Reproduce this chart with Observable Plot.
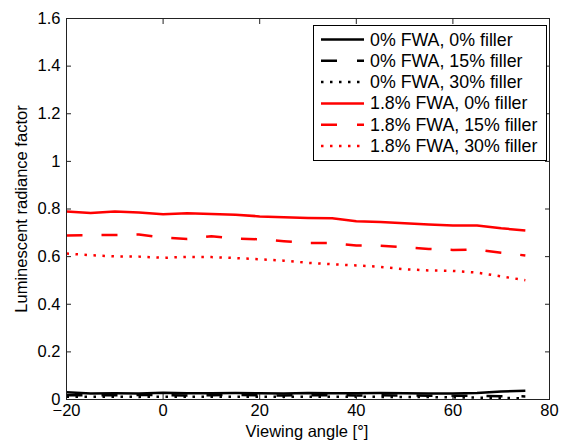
<!DOCTYPE html>
<html>
<head>
<meta charset="utf-8">
<script src="https://cdn.jsdelivr.net/npm/d3@7"></script>
<script src="https://cdn.jsdelivr.net/npm/@observablehq/plot@0.6"></script>
<style>
  html, body { margin: 0; padding: 0; background: #fff; }
  #chart { position: relative; width: 561px; height: 442px; }
  svg { font-family: "Liberation Sans", Arial, Helvetica, sans-serif; }
</style>
</head>
<body>
<div id="chart"></div>
<script>
const angles = [-20,-15,-10,-5,0,5,10,15,20,25,30,35,40,45,50,55,60,65,70,75];

const fwa0_filler0  = [0.030,0.025,0.026,0.025,0.028,0.026,0.026,0.027,0.026,0.025,0.027,0.026,0.026,0.027,0.026,0.025,0.025,0.027,0.034,0.037];
const fwa0_filler15 = [0.018,0.017,0.018,0.019,0.018,0.017,0.018,0.019,0.018,0.017,0.018,0.018,0.017,0.018,0.017,0.016,0.016,0.015,0.014,0.013];
const fwa0_filler30 = [0.012,0.011,0.012,0.011,0.012,0.011,0.012,0.011,0.012,0.011,0.012,0.011,0.012,0.011,0.010,0.010,0.009,0.008,0.007,0.005];
const fwa18_filler0  = [0.789,0.783,0.789,0.785,0.778,0.782,0.779,0.776,0.769,0.765,0.762,0.761,0.749,0.745,0.740,0.735,0.731,0.731,0.719,0.710];
const fwa18_filler15 = [0.689,0.690,0.691,0.693,0.680,0.674,0.686,0.676,0.673,0.665,0.657,0.657,0.647,0.646,0.639,0.632,0.628,0.630,0.616,0.605];
const fwa18_filler30 = [0.613,0.606,0.601,0.600,0.595,0.599,0.598,0.594,0.589,0.583,0.574,0.568,0.563,0.557,0.547,0.542,0.540,0.533,0.517,0.501];

const seriesNames = ["0% FWA, 0% filler","0% FWA, 15% filler","0% FWA, 30% filler","1.8% FWA, 0% filler","1.8% FWA, 15% filler","1.8% FWA, 30% filler"];
const seriesValues = [fwa0_filler0, fwa0_filler15, fwa0_filler30, fwa18_filler0, fwa18_filler15, fwa18_filler30];
const seriesColors = ["#000000","#000000","#000000","#ff0000","#ff0000","#ff0000"];
const seriesDash = [null, "16,19", "2.5,6.5", null, "16,19", "2.5,6.5"];
const legendDash = [null, "16,20", "2.5,6.5", null, "16,20", "2.5,6.5"];

const xTicks = [-20, 0, 20, 40, 60, 80];
const yTicks = [0, 0.2, 0.4, 0.6, 0.8, 1, 1.2, 1.4, 1.6];
const yTickLabels = ["0","0.2","0.4","0.6","0.8","1","1.2","1.4","1.6"];

const lineMarks = seriesNames.map((name, i) => {
  const rows = angles.map((a, j) => ({angle: a, value: seriesValues[i][j]}));
  return Plot.line(rows, {
    x: "angle", y: "value",
    stroke: seriesColors[i],
    strokeWidth: 2.5,
    strokeDasharray: seriesDash[i] || undefined,
    strokeLinecap: "butt",
    strokeLinejoin: "round"
  });
});

const chart = Plot.plot({
  width: 561,
  height: 442,
  marginLeft: 66,
  marginRight: 12,
  marginTop: 18,
  marginBottom: 43,
  style: {fontFamily: "'Liberation Sans', Arial, Helvetica, sans-serif", fontSize: "16px", color: "#000", background: "#fff"},
  x: {domain: [-20, 80]},
  y: {domain: [0, 1.6]},
  marks: [
    ...lineMarks,
    Plot.axisX(xTicks, {anchor: "bottom", tickSize: 0, tickPadding: 5, fontSize: 16.5, label: null, tickFormat: d => d < 0 ? "\u2212" + Math.abs(d) : String(d)}),
    Plot.axisX(xTicks, {anchor: "bottom", tickSize: -5, tickFormat: () => "", label: null, stroke: "#222"}),
    Plot.axisX(xTicks, {anchor: "top", tickSize: -5, tickFormat: () => "", label: null, stroke: "#222"}),
    Plot.axisY(yTicks, {anchor: "left", tickSize: 0, tickPadding: 6, fontSize: 16.5, label: null, tickFormat: (d, i) => yTickLabels[i]}),
    Plot.axisY(yTicks, {anchor: "left", tickSize: -5, tickFormat: () => "", label: null, stroke: "#222"}),
    Plot.axisY(yTicks, {anchor: "right", tickSize: -5, tickFormat: () => "", label: null, stroke: "#222"}),
    Plot.frame({stroke: "#222", strokeWidth: 1})
  ]
});

document.getElementById("chart").appendChild(chart);

const svg = d3.select(chart);
// axis titles
svg.append("text")
  .attr("x", 307).attr("y", 437)
  .attr("text-anchor", "middle")
  .attr("font-size", 16.5)
  .attr("fill", "#000")
  .text("Viewing angle [°]");
svg.append("text")
  .attr("transform", "translate(27,209) rotate(-90)")
  .attr("text-anchor", "middle")
  .attr("font-size", 16.5)
  .attr("fill", "#000")
  .text("Luminescent radiance factor");

// legend
const lg = svg.append("g");
lg.append("rect")
  .attr("x", 313.5).attr("y", 25.5).attr("width", 233).attr("height", 135)
  .attr("fill", "#fff").attr("stroke", "#000").attr("stroke-width", 1);
seriesNames.forEach((name, i) => {
  const y = 39.5 + i * 21.3;
  lg.append("line")
    .attr("x1", 321).attr("x2", 364).attr("y1", y).attr("y2", y)
    .attr("stroke", seriesColors[i]).attr("stroke-width", 2.5)
    .attr("stroke-dasharray", legendDash[i]);
  lg.append("text")
    .attr("x", 370).attr("y", y + 6)
    .attr("text-anchor", "start")
    .attr("font-size", 17.8)
    .attr("fill", "#000")
    .text(name);
});
</script>
</body>
</html>
